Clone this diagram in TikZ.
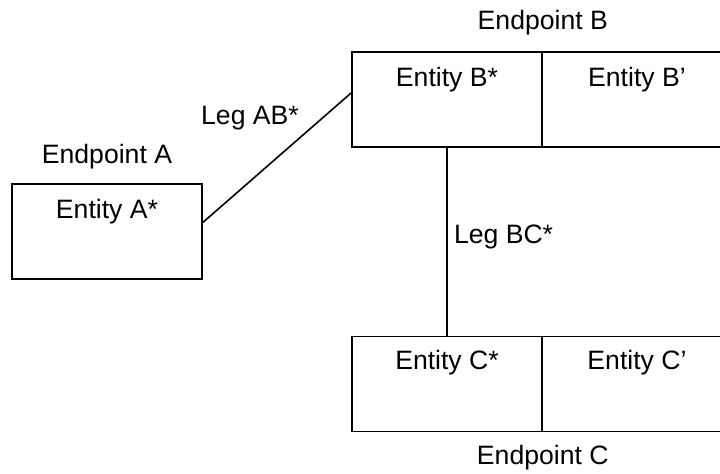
\documentclass[tikz,border=0pt]{standalone}
\usepackage{fontspec}
\setmainfont{Liberation Sans}
\usetikzlibrary{positioning}

\begin{document}
\begin{tikzpicture}[x=0.5pt, y=-0.5pt]
  \tikzstyle{every node}=[font=\fontsize{13.3}{16}\selectfont]
  \tikzstyle{box}=[draw, thick, minimum width=95pt, minimum height=47.5pt, inner sep=0pt]
  \useasboundingbox (0, 0) rectangle (720, 473);

  % endpoint A
  \node[box] (entA) at (107, 231.5) {};
    \node (txtA) at ([yshift=-14pt]entA.north) {Entity A*};
    \node (endA) at ([yshift=13.5pt]entA.north) {Endpoint A};

  % endpoint B
  \node[box] (entB) at (447, 99.5) {};
  \node[box] (entBp) at (637, 99.5) {};
    \node (txtB) at ([yshift=-14pt]entB.north) {Entity B*};
    \node (txtBp) at ([yshift=-14pt]entBp.north) {Entity B'};
    \node (endB) at ([yshift=14.5pt]entB.north east) {Endpoint B};

  % endpoint C
  \node[box] (entC) at (447, 384) {};
  \node[box] (entCp) at (637, 384) {};
    \node (txtC) at ([yshift=-13.5pt]entC.north) {Entity C*};
    \node (txtCp) at ([yshift=-13.5pt]entCp.north) {Entity C'};
    \node (endC) at ([yshift=-12.5pt]entC.south east) {Endpoint C};

  % legs
  \draw[thick] ([yshift=4.5pt]entA.east) -- ([yshift=3.3pt]entB.west);
    \node (legAB) at (250, 118) {Leg AB*};
  \draw[thick] (entB.south) -- (entC.north);
    \node[right] (legBC) at (447, 237) {Leg BC*};
\end{tikzpicture}
\end{document}
